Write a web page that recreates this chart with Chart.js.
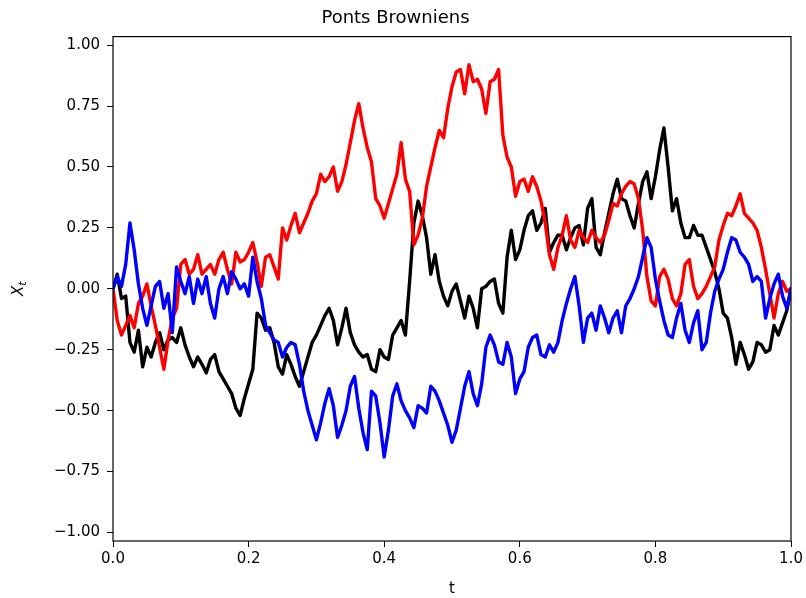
<!DOCTYPE html>
<html lang="fr">
<head>
<meta charset="utf-8">
<title>Ponts Browniens</title>
<script src="https://cdn.jsdelivr.net/npm/chart.js@4.4.1/dist/chart.umd.min.js"></script>
<style>
  html, body { margin: 0; padding: 0; background: #ffffff; }
  #wrap { width: 806px; height: 598px; }
</style>
</head>
<body>
<div id="wrap"><canvas id="pontsChart" width="806" height="598"></canvas></div>
<script>
// pas de temps : 161 points sur [0, 1]
const N_STEPS = 160;
const T = Array.from({ length: N_STEPS + 1 }, (_, i) => i / N_STEPS);

// valeurs (une ligne = 10 pas)
const pontNoir = [
  0.00, 0.06, -0.04, -0.03, -0.22, -0.26, -0.17, -0.32, -0.24, -0.28,
  -0.22, -0.18, -0.25, -0.21, -0.20, -0.22, -0.16, -0.23, -0.28, -0.32,
  -0.28, -0.31, -0.345, -0.29, -0.27, -0.34, -0.37, -0.40, -0.43, -0.49,
  -0.52, -0.45, -0.39, -0.33, -0.10, -0.12, -0.17, -0.16, -0.22, -0.32,
  -0.35, -0.27, -0.31, -0.36, -0.40, -0.34, -0.28, -0.22, -0.19, -0.15,
  -0.11, -0.08, -0.13, -0.23, -0.16, -0.08, -0.18, -0.23, -0.26, -0.28,
  -0.27, -0.33, -0.34, -0.25, -0.28, -0.29, -0.19, -0.16, -0.13, -0.19,
  0.03, 0.27, 0.36, 0.30, 0.21, 0.06, 0.14, 0.03, -0.03, -0.07,
  -0.01, 0.02, -0.05, -0.12, -0.03, -0.08, -0.16, 0.00, 0.01, 0.03,
  0.04, -0.06, -0.10, 0.13, 0.24, 0.12, 0.16, 0.24, 0.30, 0.32,
  0.24, 0.27, 0.33, 0.15, 0.19, 0.22, 0.22, 0.16, 0.21, 0.25,
  0.26, 0.18, 0.33, 0.37, 0.17, 0.14, 0.23, 0.31, 0.39, 0.45,
  0.37, 0.36, 0.30, 0.25, 0.35, 0.44, 0.48, 0.37, 0.46, 0.57,
  0.66, 0.50, 0.32, 0.37, 0.27, 0.21, 0.21, 0.26, 0.22, 0.22,
  0.17, 0.12, 0.07, 0.00, -0.10, -0.12, -0.20, -0.31, -0.22, -0.27,
  -0.33, -0.30, -0.22, -0.23, -0.26, -0.25, -0.15, -0.19, -0.14, -0.09,
  0.00
];

const pontRouge = [
  0.00, -0.13, -0.19, -0.15, -0.11, -0.16, -0.06, -0.03, 0.02, -0.07,
  -0.15, -0.24, -0.33, -0.21, -0.12, -0.08, 0.10, 0.12, 0.06, 0.08,
  0.14, 0.06, 0.08, 0.10, 0.06, 0.12, 0.15, 0.08, 0.02, 0.15,
  0.11, 0.12, 0.15, 0.19, 0.11, 0.01, 0.13, 0.14, 0.09, 0.04,
  0.25, 0.20, 0.26, 0.31, 0.23, 0.27, 0.31, 0.36, 0.39, 0.47,
  0.44, 0.46, 0.50, 0.40, 0.44, 0.51, 0.60, 0.69, 0.76, 0.66,
  0.58, 0.52, 0.37, 0.34, 0.29, 0.35, 0.41, 0.47, 0.60, 0.45,
  0.40, 0.18, 0.22, 0.29, 0.42, 0.50, 0.58, 0.65, 0.62, 0.74,
  0.83, 0.89, 0.90, 0.80, 0.92, 0.85, 0.86, 0.82, 0.72, 0.85,
  0.86, 0.90, 0.63, 0.54, 0.50, 0.38, 0.44, 0.45, 0.40, 0.46,
  0.42, 0.36, 0.27, 0.14, 0.08, 0.17, 0.22, 0.30, 0.20, 0.17,
  0.24, 0.21, 0.19, 0.24, 0.21, 0.19, 0.22, 0.28, 0.35, 0.34,
  0.39, 0.42, 0.44, 0.43, 0.37, 0.24, 0.05, -0.05, -0.07, 0.05,
  0.08, 0.04, -0.04, -0.07, -0.02, 0.10, 0.12, 0.01, -0.04, -0.02,
  0.01, 0.05, 0.09, 0.20, 0.26, 0.31, 0.30, 0.34, 0.39, 0.31,
  0.29, 0.27, 0.24, 0.17, 0.08, -0.02, -0.12, -0.02, 0.03, -0.01,
  0.00
];

const pontBleu = [
  0.00, 0.05, 0.01, 0.10, 0.27, 0.16, 0.02, -0.08, -0.15, -0.07,
  0.01, 0.03, -0.08, -0.02, -0.18, 0.09, 0.03, -0.02, 0.05, -0.06,
  0.04, -0.02, 0.05, -0.06, -0.12, 0.00, 0.05, -0.02, 0.07, 0.04,
  0.00, 0.02, -0.03, 0.13, 0.03, -0.04, -0.15, -0.18, -0.21, -0.22,
  -0.28, -0.24, -0.22, -0.23, -0.31, -0.42, -0.50, -0.56, -0.62, -0.55,
  -0.47, -0.41, -0.48, -0.61, -0.56, -0.50, -0.40, -0.36, -0.49, -0.59,
  -0.66, -0.42, -0.44, -0.55, -0.69, -0.58, -0.44, -0.39, -0.46, -0.50,
  -0.53, -0.57, -0.48, -0.49, -0.51, -0.40, -0.42, -0.46, -0.51, -0.56,
  -0.63, -0.58, -0.49, -0.40, -0.34, -0.43, -0.48, -0.39, -0.24, -0.19,
  -0.23, -0.30, -0.31, -0.22, -0.28, -0.43, -0.37, -0.34, -0.24, -0.20,
  -0.19, -0.27, -0.28, -0.23, -0.26, -0.22, -0.13, -0.06, 0.00, 0.05,
  -0.07, -0.22, -0.12, -0.10, -0.17, -0.07, -0.12, -0.18, -0.12, -0.09,
  -0.18, -0.07, -0.04, 0.00, 0.05, 0.13, 0.21, 0.17, 0.04, -0.05,
  -0.13, -0.19, -0.20, -0.12, -0.06, -0.17, -0.22, -0.14, -0.09, -0.25,
  -0.22, -0.10, -0.01, 0.04, 0.08, 0.15, 0.21, 0.20, 0.15, 0.13,
  0.10, 0.03, 0.05, 0.03, -0.12, -0.04, 0.02, 0.06, -0.03, -0.08,
  0.00
];

const xTicks = [0, 0.2, 0.4, 0.6, 0.8, 1.0];
const yTicks = [-1, -0.75, -0.5, -0.25, 0, 0.25, 0.5, 0.75, 1];

const FONT = "'DejaVu Sans', sans-serif";

function toPoints(values) {
  return values.map((v, i) => ({ x: T[i], y: v }));
}

// cadre complet autour de la zone du graphe + label X_t en mathtext
const framePlugin = {
  id: 'frame',
  afterDraw(chart) {
    const { ctx, chartArea } = chart;
    ctx.save();
    ctx.strokeStyle = '#000000';
    ctx.lineWidth = 1.2;
    ctx.strokeRect(chartArea.left, chartArea.top,
      chartArea.right - chartArea.left, chartArea.bottom - chartArea.top);

    // X avec indice t, tourne de -90 degres
    const midY = (chartArea.top + chartArea.bottom) / 2;
    ctx.translate(23, midY);
    ctx.rotate(-Math.PI / 2);
    ctx.fillStyle = '#000000';
    ctx.textBaseline = 'alphabetic';
    ctx.font = 'italic 15px ' + FONT;
    const wX = ctx.measureText('X').width;
    ctx.font = 'italic 11px ' + FONT;
    const wT = ctx.measureText('t').width;
    const x0 = -(wX + wT) / 2;
    ctx.font = 'italic 15px ' + FONT;
    ctx.fillText('X', x0, 0);
    ctx.font = 'italic 11px ' + FONT;
    ctx.fillText('t', x0 + wX, 3);
    ctx.restore();
  }
};

function renderChart() {
  const ctx = document.getElementById('pontsChart').getContext('2d');

  new Chart(ctx, {
    type: 'line',
    data: {
      datasets: [
        { label: 'bleu', data: toPoints(pontBleu), borderColor: '#0000ff', order: 0 },
        { label: 'rouge', data: toPoints(pontRouge), borderColor: '#ff0000', order: 1 },
        { label: 'noir', data: toPoints(pontNoir), borderColor: '#000000', order: 2 }
      ]
    },
    options: {
      responsive: false,
      animation: false,
      datasets: {
        line: {
          borderWidth: 3.4,
          borderJoinStyle: 'round',
          borderCapStyle: 'round',
          pointRadius: 0,
          tension: 0,
          fill: false
        }
      },
      layout: { padding: { left: 0, right: 15, top: 0, bottom: 0 } },
      plugins: {
        legend: { display: false },
        tooltip: { enabled: false },
        title: {
          display: true,
          text: 'Ponts Browniens',
          color: '#000000',
          font: { family: FONT, size: 18, weight: 'normal' },
          padding: { top: 8, bottom: 7 }
        }
      },
      scales: {
        x: {
          type: 'linear',
          min: 0,
          max: 1,
          afterBuildTicks: (scale) => { scale.ticks = xTicks.map(v => ({ value: v })); },
          afterFit: (scale) => { scale.height = 57; },
          border: { display: false },
          grid: { drawOnChartArea: false, drawTicks: true, tickLength: 6, tickColor: '#000000', tickWidth: 1 },
          ticks: {
            color: '#000000',
            padding: 3,
            maxRotation: 0,
            font: { family: FONT, size: 15 },
            callback: (v) => Number(v).toFixed(1)
          },
          title: {
            display: true,
            text: 't',
            color: '#000000',
            font: { family: FONT, size: 15 },
            padding: { top: 0, bottom: 0 }
          }
        },
        y: {
          type: 'linear',
          min: -1.035,
          max: 1.035,
          afterBuildTicks: (scale) => { scale.ticks = yTicks.map(v => ({ value: v })); },
          afterFit: (scale) => { scale.width = 113; },
          border: { display: false },
          grid: { drawOnChartArea: false, drawTicks: true, tickLength: 6, tickColor: '#000000', tickWidth: 1 },
          ticks: {
            color: '#000000',
            padding: 7,
            font: { family: FONT, size: 15 },
            callback: (v) => {
              const s = Math.abs(v).toFixed(2);
              return v < -1e-9 ? '\u2212' + s : s;
            }
          }
        }
      }
    },
    plugins: [framePlugin]
  });
}

window.onload = () => {
  renderChart();
};
</script>
</body>
</html>
